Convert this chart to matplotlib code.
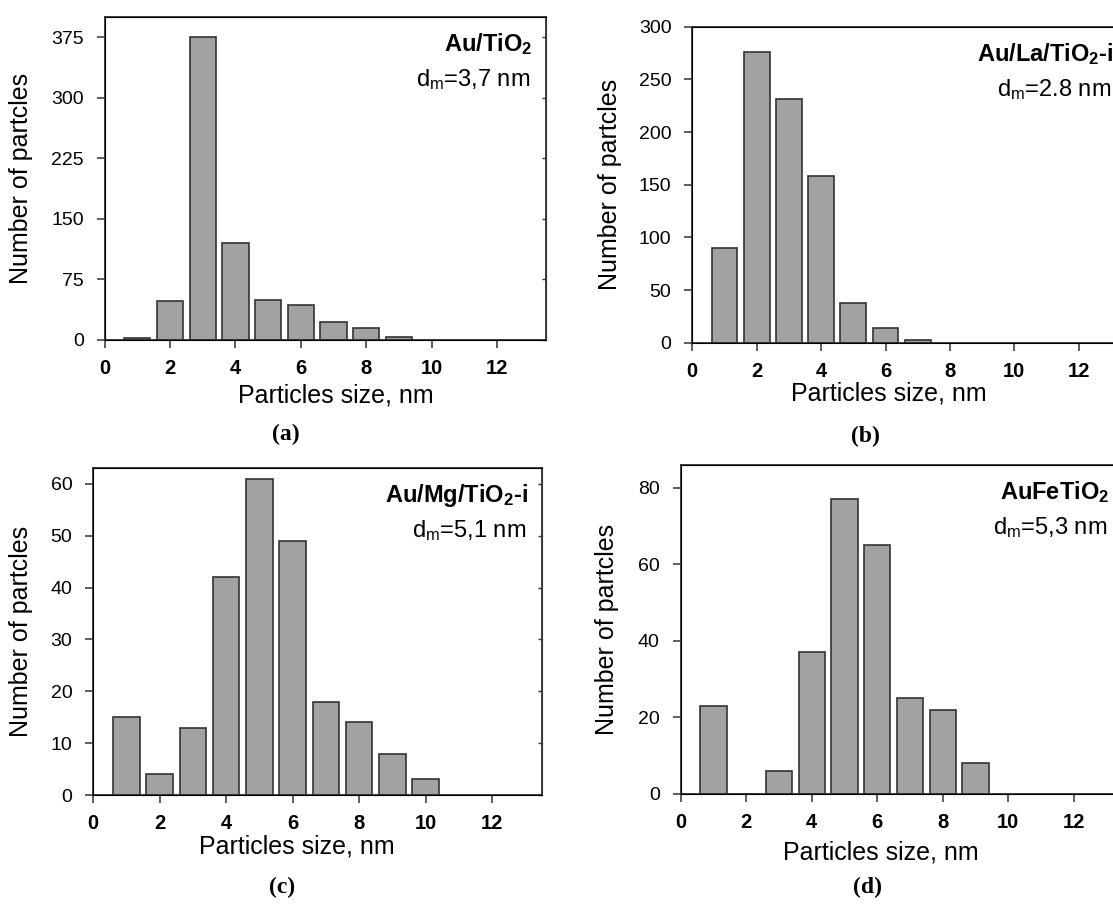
import numpy as np
import matplotlib.pyplot as plt
import matplotlib.transforms as mtransforms

plt.rcParams['font.family'] = ['Liberation Sans', 'DejaVu Sans']
plt.rcParams['mathtext.fontset'] = 'custom'
plt.rcParams['mathtext.rm'] = 'Liberation Sans'
plt.rcParams['mathtext.it'] = 'Liberation Sans:italic'
plt.rcParams['mathtext.bf'] = 'Liberation Sans:bold'

# particle size bins (nm) and counts
sizes_a = [1, 2, 3, 4, 5, 6, 7, 8, 9]
counts_a = [3, 48, 375, 120, 50, 44, 22, 15, 4]

sizes_b = [1, 2, 3, 4, 5, 6, 7]
counts_b = [90, 276, 231, 158, 38, 14, 3]

sizes_c = [1, 2, 3, 4, 5, 6, 7, 8, 9, 10]
counts_c = [15, 4, 13, 42, 61, 49, 18, 14, 8, 3]

sizes_d = [1, 2, 3, 4, 5, 6, 7, 8, 9]
counts_d = [23, 0, 6, 37, 77, 65, 25, 22, 8]

samples = [r'Au/TiO$_\mathbf{2}$', r'Au/La/TiO$_\mathbf{2}$-i',
           r'Au/Mg/TiO$_\mathbf{2}$-i', r'AuFeTiO$_\mathbf{2}$']
mean_sizes = [r'd$_\mathrm{m}$=3,7 nm', r'd$_\mathrm{m}$=2.8 nm',
              r'd$_\mathrm{m}$=5,1 nm', r'd$_\mathrm{m}$=5,3 nm']
panel_tags = ['(a)', '(b)', '(c)', '(d)']
y_ticks = [[0, 75, 150, 225, 300, 375], [0, 50, 100, 150, 200, 250, 300],
           [0, 10, 20, 30, 40, 50, 60], [0, 20, 40, 60, 80]]
y_tops = [400, 300, 63, 86]
x_ticks = [0, 2, 4, 6, 8, 10, 12]

# layout in pixels: axes box (left, top, right, bottom)
W, H = 1113, 905
boxes = [(104.7, 17.3, 546, 340), (692.3, 26.7, 1127, 342.7),
         (93.3, 468.3, 541.8, 795), (680.7, 465, 1123, 794)]
xlab_pos = [(336, 395), (889, 394), (297, 846), (881, 852)]
ylab_x = [21, 610, 21, 607]
tag_pos = [(286, 434), (865, 436), (282, 887), (867, 887)]

fig = plt.figure(figsize=(W / 100, H / 100), dpi=100)

data = [(sizes_a, counts_a), (sizes_b, counts_b), (sizes_c, counts_c), (sizes_d, counts_d)]
line_col = '#333333'

for i, (sz, cnt) in enumerate(data):
    l, t, r, b = boxes[i]
    ax = fig.add_axes([l / W, 1 - b / H, (r - l) / W, (b - t) / H])
    ax.bar(sz, cnt, width=0.8, color='#a2a2a2', edgecolor=line_col, linewidth=1.2, zorder=2)
    ax.set_xlim(0, 13.5)
    ax.set_ylim(0, y_tops[i])
    ax.set_xticks(x_ticks)
    ax.set_yticks(y_ticks[i])
    for s in ax.spines.values():
        s.set_color(line_col)
        s.set_linewidth(1.3)
    ax.tick_params(axis='both', direction='out', length=6, width=1.1, color=line_col)
    ax.tick_params(axis='x', labelsize=14.5, pad=8)
    ax.tick_params(axis='y', labelsize=14, pad=9)
    for lab in ax.get_xticklabels():
        lab.set_fontweight('bold')

    # small inward ticks on the right spine
    tw = ax.twinx()
    tw.set_ylim(0, y_tops[i])
    tw.set_yticks(y_ticks[i])
    tw.tick_params(direction='in', length=3, width=1.0, color=line_col, labelright=False)
    tw.spines['right'].set_color(line_col)

    ax.set_xlabel('Particles size, nm', fontsize=18)
    ax.xaxis.label.set_verticalalignment('center')
    ax.xaxis.set_label_coords(xlab_pos[i][0] / W, 1 - xlab_pos[i][1] / H,
                              transform=fig.transFigure)
    ax.set_ylabel('Number of partcles', fontsize=18)
    ax.yaxis.label.set_verticalalignment('center')
    ax.yaxis.set_label_coords(ylab_x[i] / W, 0.5,
                              transform=mtransforms.blended_transform_factory(fig.transFigure, ax.transAxes))

    ax.annotate(samples[i], xy=(1, 1), xycoords='axes fraction', xytext=(-14, -34),
                textcoords='offset pixels', ha='right', va='baseline',
                fontsize=17, fontweight='bold')
    ax.annotate(mean_sizes[i], xy=(1, 1), xycoords='axes fraction', xytext=(-16, -69),
                textcoords='offset pixels', ha='right', va='baseline', fontsize=17)

    fig.text(tag_pos[i][0] / W, 1 - tag_pos[i][1] / H, panel_tags[i],
             family=['Liberation Serif', 'DejaVu Serif'], fontsize=17,
             fontweight='bold', ha='center', va='center')

fig.savefig('out.png', dpi=100)
